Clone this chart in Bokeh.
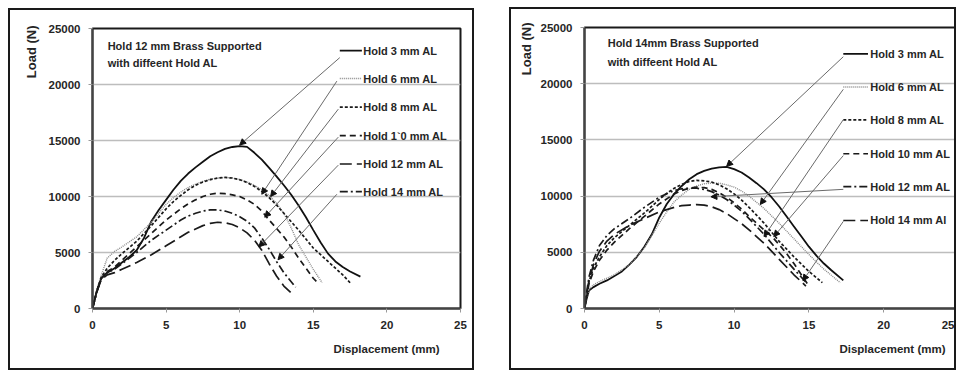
from bokeh.plotting import figure
from bokeh.layouts import row
from bokeh.models import Range1d, Arrow, NormalHead, ColumnDataSource, Title, FixedTicker
from bokeh.core.properties import value
from bokeh.embed import file_html
from bokeh.resources import INLINE

FONT = "Liberation Sans"
TXT = "#262626"

x_ticks = [0, 5, 10, 15, 20, 25]
y_ticks = [0, 5000, 10000, 15000, 20000, 25000]

# ---------------- Left panel: Hold 12 mm Brass Supported ----------------
left_title = ["Hold 12 mm Brass Supported", "with diffeent Hold AL"]
left_names = ["Hold 3 mm AL", "Hold 6 mm AL", "Hold 8 mm AL",
              "Hold 1`0 mm AL", "Hold 12 mm AL", "Hold 14 mm AL"]

L_x3 = [0, 0.3, 0.6, 1.0, 1.5, 2.0, 2.5, 3.0, 3.5, 4.0, 4.5, 5.0, 5.5, 6.0, 6.5, 7.0, 7.5, 8.0, 8.5, 9.0, 9.5, 10.0, 10.5, 11.0, 11.5, 12.0, 12.5, 13.0, 13.5, 14.0, 14.5, 15.0, 15.5, 16.0, 16.5, 17.0, 17.5, 18.2]
L_y3 = [0, 1600, 2700, 3200, 3600, 4100, 4600, 5200, 6300, 7800, 8800, 9700, 10600, 11400, 12050, 12600, 13100, 13600, 13950, 14250, 14420, 14500, 14430, 13900, 13300, 12550, 11800, 11000, 10150, 9200, 8150, 7000, 5900, 4900, 4200, 3700, 3300, 2850]
L_x6 = [0, 0.3, 0.6, 1.0, 1.5, 2.0, 3.0, 4.0, 5.0, 5.5, 6.0, 6.5, 7.0, 7.5, 8.0, 8.5, 9.0, 9.5, 10.0, 10.5, 11.0, 11.5, 12.0, 12.5, 13.0, 13.5, 14.0, 14.5, 15.0, 15.6]
L_y6 = [0, 1700, 3000, 4500, 5100, 5500, 6400, 7700, 9300, 9900, 10400, 10800, 11100, 11350, 11550, 11650, 11700, 11650, 11500, 11300, 11000, 10600, 10100, 9400, 8500, 7200, 5700, 4600, 3500, 2300]
L_x8 = [0, 0.3, 0.6, 1.0, 1.5, 2.0, 3.0, 4.0, 5.0, 5.5, 6.0, 6.5, 7.0, 7.5, 8.0, 8.5, 9.0, 9.5, 10.0, 10.5, 11.0, 11.5, 12.0, 12.5, 13.0, 14.0, 15.0, 16.0, 17.0, 17.5]
L_y8 = [0, 1600, 2800, 3600, 4300, 4900, 6000, 7400, 8900, 9550, 10100, 10600, 11000, 11300, 11500, 11650, 11700, 11650, 11500, 11250, 10900, 10450, 9900, 9250, 8500, 7000, 5400, 4200, 3000, 2300]
L_x10 = [0, 0.3, 0.6, 1.0, 1.5, 2.0, 3.0, 4.0, 5.0, 6.0, 6.5, 7.0, 7.5, 8.0, 8.5, 9.0, 9.5, 10.0, 10.5, 11.0, 11.5, 12.0, 12.5, 13.0, 13.5, 14.0, 14.5, 15.0, 15.3]
L_y10 = [0, 1600, 2700, 3300, 3700, 4300, 5500, 6700, 7900, 8900, 9350, 9700, 10000, 10200, 10300, 10250, 10150, 10000, 9700, 9300, 8700, 7900, 7150, 6400, 5500, 4500, 3600, 2700, 2300]
L_x12 = [0, 0.3, 0.6, 1.0, 1.5, 2.0, 3.0, 4.0, 5.0, 6.0, 6.5, 7.0, 7.5, 8.0, 8.5, 9.0, 9.5, 10.0, 10.5, 11.0, 11.5, 12.0, 12.5, 13.0, 13.5]
L_y12 = [0, 1500, 2600, 3000, 3200, 3500, 4100, 4800, 5600, 6400, 6800, 7100, 7400, 7600, 7700, 7650, 7500, 7200, 6750, 6100, 5200, 4000, 2900, 2000, 1400]
L_x14 = [0, 0.3, 0.6, 1.0, 1.5, 2.0, 3.0, 4.0, 5.0, 6.0, 6.5, 7.0, 7.5, 8.0, 8.5, 9.0, 9.5, 10.0, 10.5, 11.0, 11.5, 12.0, 12.5, 13.0, 13.8]
L_y14 = [0, 1500, 2700, 3200, 3500, 4000, 5000, 6100, 7000, 7900, 8250, 8500, 8700, 8800, 8800, 8700, 8500, 8200, 7800, 7200, 6300, 5300, 4200, 3200, 1900]

left_label_y = [23020, 20530, 17980, 15430, 12900, 10440]
left_arrow_x0 = [16.8, 16.6, 16.7, 16.7, 16.7, 16.6]
left_arrow_y0 = [22400, 20300, 17800, 15300, 12800, 10200]
left_arrow_x1 = [10.0, 11.5, 12.1, 11.7, 11.3, 12.6]
left_arrow_y1 = [14600, 10200, 10000, 8150, 5500, 4350]

# ---------------- Right panel: Hold 14 mm Brass Supported ----------------
right_title = ["Hold 14mm Brass Supported", "with diffeent Hold AL"]
right_names = ["Hold 3 mm AL", "Hold 6 mm AL", "Hold 8 mm AL",
               "Hold 10 mm AL", "Hold 12 mm AL", "Hold 14 mm Al"]

R_x3 = [0, 0.15, 0.3, 0.6, 1.0, 1.5, 2.0, 2.5, 3.0, 3.5, 4.0, 4.5, 5.0, 5.5, 6.0, 6.5, 7.0, 7.5, 8.0, 8.5, 9.0, 9.5, 10.0, 10.5, 11.0, 11.5, 12.0, 12.5, 13.0, 13.5, 14.0, 14.5, 15.0, 15.5, 16.0, 16.5, 17.3]
R_y3 = [0, 900, 1600, 1900, 2200, 2500, 2900, 3300, 3900, 4600, 5500, 6600, 8100, 9300, 10200, 10900, 11500, 11950, 12250, 12450, 12550, 12600, 12400, 12100, 11650, 11150, 10600, 9900, 9100, 8200, 7300, 6400, 5500, 4700, 4000, 3400, 2500]
R_x6 = [0, 0.15, 0.3, 0.6, 1.0, 1.5, 2.0, 3.0, 4.0, 4.5, 5.0, 5.5, 6.0, 6.5, 7.0, 7.5, 8.0, 8.5, 9.0, 9.5, 10.0, 10.5, 11.0, 12.0, 13.0, 14.0, 15.0, 16.0, 17.1]
R_y6 = [0, 1000, 1700, 2100, 2400, 2700, 3000, 3900, 5400, 6500, 7600, 8600, 9500, 10100, 10600, 10900, 11100, 11150, 11150, 11000, 10800, 10450, 10000, 8900, 7600, 6200, 4800, 3500, 2300]
R_x8 = [0, 0.15, 0.3, 0.6, 1.0, 1.5, 2.0, 3.0, 4.0, 5.0, 5.5, 6.0, 6.5, 7.0, 7.5, 8.0, 8.5, 9.0, 9.5, 10.0, 10.5, 11.0, 11.5, 12.0, 13.0, 14.0, 15.0, 15.9]
R_y8 = [0, 1200, 2400, 3600, 4600, 5600, 6300, 7400, 8500, 9700, 10250, 10700, 11050, 11300, 11400, 11350, 11250, 11000, 10650, 10200, 9650, 9000, 8300, 7600, 6000, 4600, 3300, 2300]
R_x10 = [0, 0.15, 0.3, 0.6, 1.0, 1.5, 2.0, 3.0, 4.0, 5.0, 6.0, 6.5, 7.0, 7.5, 8.0, 8.5, 9.0, 9.5, 10.0, 10.5, 11.0, 11.5, 12.0, 12.6, 13.0, 13.5, 14.0, 14.9]
R_y10 = [0, 1100, 2200, 3300, 4300, 5200, 5900, 7100, 8200, 9300, 10200, 10500, 10700, 10800, 10750, 10600, 10300, 9900, 9400, 8850, 8200, 7600, 7000, 6300, 5700, 4900, 4000, 2200]
R_x12 = [0, 0.15, 0.3, 0.6, 1.0, 1.5, 2.0, 3.0, 4.0, 5.0, 6.0, 6.5, 7.0, 7.5, 8.0, 8.5, 9.0, 9.5, 10.0, 10.5, 11.0, 11.5, 12.0, 13.0, 14.0, 14.9]
R_y12 = [0, 1500, 2800, 4300, 5600, 6500, 7100, 8000, 9000, 9900, 10500, 10650, 10700, 10700, 10600, 10400, 10100, 9700, 9200, 8650, 8000, 7300, 6600, 5000, 3500, 2200]
R_x14 = [0, 0.15, 0.3, 0.6, 1.0, 1.5, 2.0, 3.0, 4.0, 5.0, 6.0, 6.5, 7.0, 7.5, 8.0, 8.5, 9.0, 9.5, 10.0, 10.5, 11.0, 11.5, 12.0, 13.0, 14.0, 14.8]
R_y14 = [0, 1300, 2500, 3900, 5100, 6000, 6600, 7400, 8000, 8600, 9000, 9150, 9200, 9250, 9200, 9050, 8800, 8450, 8000, 7550, 7000, 6400, 5800, 4400, 3000, 2000]

right_label_y = [22650, 19700, 16780, 13770, 10840, 7830]
right_arrow_x0 = [17.3, 17.3, 17.3, 17.3, 17.3, 17.3]
right_arrow_y0 = [22400, 19500, 16800, 13600, 10600, 7750]
right_arrow_x1 = [9.5, 11.75, 12.0, 12.65, 8.45, 14.6]
right_arrow_y1 = [12650, 9250, 6400, 6400, 9940, 2470]

# line styles (dash, color, width)
STY_SOLID = ("solid", "#111111", 1.8)
STY_DOT = ("1 1", "#8a8a8a", 1.4)
STY_SHORT = ("3 2", "#1a1a1a", 1.7)
STY_MED = ("6 4", "#1a1a1a", 1.7)
STY_LONG = ("12 5", "#1a1a1a", 1.7)
STY_DASHDOT = ("8 3 2 3", "#1a1a1a", 1.7)


def make_panel(curves, styles, names, label_y, sample_x0, sample_x1, text_x,
               ax0, ay0, ax1, ay1, title_lines, title_x, title_y,
               width, height, mb_left, mb_right, mb_top, mb_bottom,
               margin, ylab_offset, xlab_offset, ylab_standoff, xlab_standoff):
    p = figure(width=width, height=height, output_backend="svg", toolbar_location=None,
               x_range=Range1d(0, 25), y_range=Range1d(0, 25000),
               min_border_left=mb_left, min_border_right=mb_right,
               min_border_top=mb_top, min_border_bottom=mb_bottom,
               background_fill_color="white", border_fill_color="white",
               margin=margin,
               styles={"border": "2px solid #1a1a1a"})
    p.outline_line_color = "#1a1a1a"
    p.outline_line_width = 2
    p.xgrid.grid_line_color = None
    p.ygrid.grid_line_color = "#bdbdbd"
    p.ygrid.grid_line_width = 1.5
    p.xaxis.ticker = FixedTicker(ticks=x_ticks)
    p.yaxis.ticker = FixedTicker(ticks=y_ticks)
    for ax in (p.xaxis[0], p.yaxis[0]):
        ax.axis_line_color = "#444444"
        ax.axis_line_width = 2
        ax.major_tick_line_color = "#999999"
        ax.major_tick_out = 4
        ax.major_tick_in = 0
        ax.minor_tick_line_color = None
        ax.major_label_text_font = FONT
        ax.major_label_text_font_style = "bold"
        ax.major_label_text_font_size = "11.5px"
        ax.major_label_text_color = TXT
        ax.major_label_standoff = 8
    p.yaxis.formatter.use_scientific = False

    p.add_layout(Title(text="Load (N)", align="right", offset=ylab_offset,
                       text_font=FONT, text_font_style="bold", text_font_size="13px",
                       text_color=TXT, standoff=ylab_standoff), "left")
    p.add_layout(Title(text="Displacement (mm)", align="right", offset=xlab_offset,
                       text_font=FONT, text_font_style="bold", text_font_size="11.5px",
                       text_color=TXT, standoff=xlab_standoff), "below")

    for (xs, ys), (dash, col, lw) in zip(curves, styles):
        p.line(xs, ys, line_color=col, line_width=lw, line_dash=dash)

    # leader arrows
    src = ColumnDataSource(dict(x0=ax0, y0=ay0, x1=ax1, y1=ay1))
    p.add_layout(Arrow(x_start="x0", y_start="y0", x_end="x1", y_end="y1", source=src,
                       line_color="#6a6a6a", line_width=1,
                       end=NormalHead(size=6, fill_color="#111111", line_color="#111111",
                                      line_width=1)))

    # legend-like sample lines and labels
    for yv, (dash, col, lw) in zip(label_y, styles):
        p.segment(x0=[sample_x0], y0=[yv], x1=[sample_x1], y1=[yv],
                  line_color=col, line_width=lw, line_dash=dash)
    p.text(x=[text_x] * len(names), y=label_y, text=names,
           text_font=value(FONT), text_font_style="bold", text_font_size="11px",
           text_color=TXT, text_baseline="middle", text_align="left")

    p.text(x=[title_x] * len(title_lines), y=title_y, text=title_lines,
           text_font=value(FONT), text_font_style="bold", text_font_size="11px",
           text_color=TXT, text_baseline="middle", text_align="left")
    return p


styles_left = [STY_SOLID, STY_DOT, STY_SHORT, STY_MED, STY_LONG, STY_DASHDOT]
styles_right = [STY_SOLID, STY_DOT, STY_SHORT, STY_MED, STY_DASHDOT, STY_LONG]

p1 = make_panel([(L_x3, L_y3), (L_x6, L_y6), (L_x8, L_y8), (L_x10, L_y10), (L_x12, L_y12), (L_x14, L_y14)],
                styles_left, left_names, left_label_y, 16.8, 18.3, 18.4,
                left_arrow_x0, left_arrow_y0, left_arrow_x1, left_arrow_y1,
                left_title, 1.03, [23400, 21880],
                width=466, height=362, mb_left=82, mb_right=16, mb_top=12, mb_bottom=62,
                margin=(8, 0, 0, 8), ylab_offset=-3, xlab_offset=21,
                ylab_standoff=14, xlab_standoff=18)

p2 = make_panel([(R_x3, R_y3), (R_x6, R_y6), (R_x8, R_y8), (R_x10, R_y10), (R_x12, R_y12), (R_x14, R_y14)],
                styles_right, right_names, right_label_y, 17.3, 18.95, 19.1,
                right_arrow_x0, right_arrow_y0, right_arrow_x1, right_arrow_y1,
                right_title, 1.55, [23600, 21900],
                width=447, height=363, mb_left=73, mb_right=0, mb_top=18, mb_bottom=64,
                margin=(7, 0, 0, 35), ylab_offset=-5, xlab_offset=13,
                ylab_standoff=8, xlab_standoff=18)

layout = row(p1, p2)
open("out.html", "w").write(file_html(layout, INLINE))
